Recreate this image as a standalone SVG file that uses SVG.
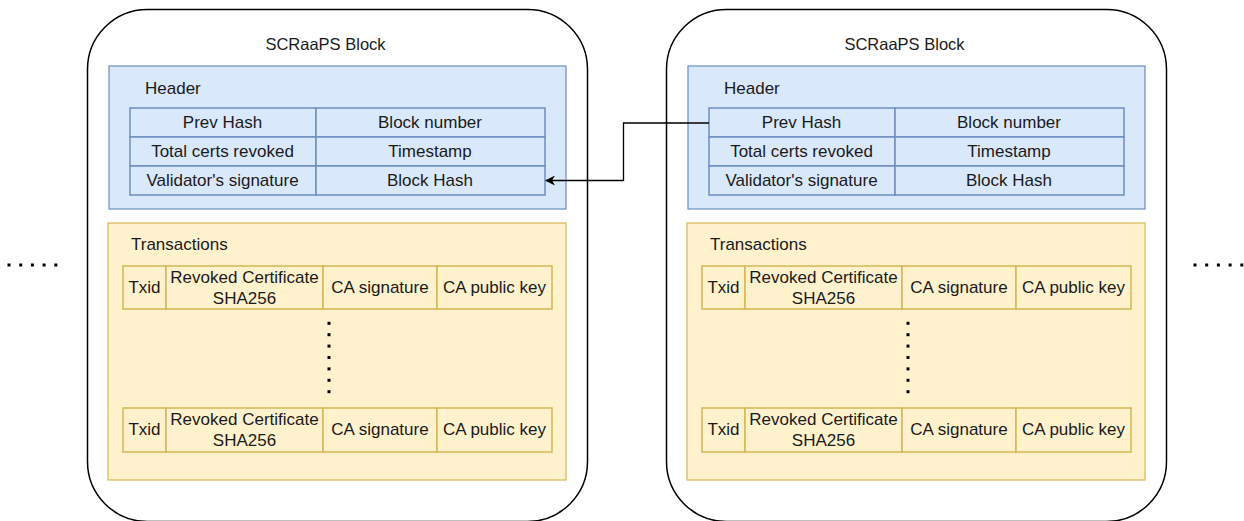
<svg xmlns="http://www.w3.org/2000/svg" width="1244" height="521" viewBox="0 0 1244 521">
<style>
text{font-family:"Liberation Sans",Arial,sans-serif;font-size:17px;fill:#1a1a1a}
.t{font-size:16.5px}
.c{text-anchor:middle}
.outer{fill:#fff;stroke:#000;stroke-width:1.5}
.hdr{fill:#dae8fc;stroke:#6c8ebf;stroke-width:1.2}
.hcell{fill:#dae8fc;stroke:#6c8ebf;stroke-width:1.5}
.tx{fill:#fff2cc;stroke:#d6b656;stroke-width:1.2}
.tcell{fill:#fff2cc;stroke:#d6b656;stroke-width:1.5}
.dot{fill:#000}
.conn{fill:none;stroke:#000;stroke-width:1.3}
</style>
<defs>
<marker id="arr" viewBox="0 0 10 10" refX="9" refY="5" markerWidth="10" markerHeight="10" markerUnits="userSpaceOnUse" orient="auto">
<path d="M0,0 L10,5 L0,10 L3,5 Z" fill="#000"/>
</marker>
<g id="block">
<rect class="outer" x="87.5" y="9.5" width="500" height="512" rx="60" ry="60"/>
<text class="c t" x="325.5" y="50">SCRaaPS Block</text>
<rect class="hdr" x="109" y="66" width="457" height="143"/>
<text x="145" y="94">Header</text>
<rect class="hcell" x="130" y="108" width="186" height="29"/>
<rect class="hcell" x="316" y="108" width="229" height="29"/>
<rect class="hcell" x="130" y="137" width="186" height="29"/>
<rect class="hcell" x="316" y="137" width="229" height="29"/>
<rect class="hcell" x="130" y="166" width="186" height="29"/>
<rect class="hcell" x="316" y="166" width="229" height="29"/>
<text class="c" x="222.5" y="128">Prev Hash</text>
<text class="c" x="430" y="128">Block number</text>
<text class="c" x="222.5" y="157">Total certs revoked</text>
<text class="c" x="430" y="157">Timestamp</text>
<text class="c" x="222.5" y="186">Validator's signature</text>
<text class="c" x="430" y="186">Block Hash</text>
<rect class="tx" x="108" y="223" width="458" height="257"/>
<text x="131" y="250">Transactions</text>
<rect class="tcell" x="123" y="266" width="43" height="43"/>
<rect class="tcell" x="166" y="266" width="157" height="43"/>
<rect class="tcell" x="323" y="266" width="114" height="43"/>
<rect class="tcell" x="437" y="266" width="115" height="43"/>
<text class="c" x="144.5" y="293">Txid</text>
<text class="c" x="244.5" y="283">Revoked Certificate</text>
<text class="c" x="244.5" y="304">SHA256</text>
<text class="c" x="380" y="293">CA signature</text>
<text class="c" x="494.5" y="293">CA public key</text>
<rect class="tcell" x="123" y="408" width="43" height="44"/>
<rect class="tcell" x="166" y="408" width="157" height="44"/>
<rect class="tcell" x="323" y="408" width="114" height="44"/>
<rect class="tcell" x="437" y="408" width="115" height="44"/>
<text class="c" x="144.5" y="435">Txid</text>
<text class="c" x="244.5" y="425">Revoked Certificate</text>
<text class="c" x="244.5" y="446">SHA256</text>
<text class="c" x="380" y="435">CA signature</text>
<text class="c" x="494.5" y="435">CA public key</text>
<rect class="dot" x="327.5" y="321.8" width="3" height="3"/>
<rect class="dot" x="327.5" y="333.2" width="3" height="3"/>
<rect class="dot" x="327.5" y="344.6" width="3" height="3"/>
<rect class="dot" x="327.5" y="356" width="3" height="3"/>
<rect class="dot" x="327.5" y="367.4" width="3" height="3"/>
<rect class="dot" x="327.5" y="378.8" width="3" height="3"/>
<rect class="dot" x="327.5" y="390.2" width="3" height="3"/>
</g>
</defs>
<g id="block-left">
<use href="#block"/>
</g>
<g id="block-right">
<use href="#block" transform="translate(579,0)"/>
</g>
<g id="ellipsis-left">
<rect class="dot" x="7.5" y="263.5" width="3" height="3"/>
<rect class="dot" x="19.2" y="263.5" width="3" height="3"/>
<rect class="dot" x="30.9" y="263.5" width="3" height="3"/>
<rect class="dot" x="42.6" y="263.5" width="3" height="3"/>
<rect class="dot" x="54.3" y="263.5" width="3" height="3"/>
</g>
<g id="ellipsis-right">
<rect class="dot" x="1193.5" y="263.5" width="3" height="3"/>
<rect class="dot" x="1205.2" y="263.5" width="3" height="3"/>
<rect class="dot" x="1216.9" y="263.5" width="3" height="3"/>
<rect class="dot" x="1228.6" y="263.5" width="3" height="3"/>
<rect class="dot" x="1240.3" y="263.5" width="3" height="3"/>
</g>
<g id="connectors">
<path class="conn" d="M709,123 H623.5 V180.5 H546" marker-end="url(#arr)"/>
</g>
</svg>
